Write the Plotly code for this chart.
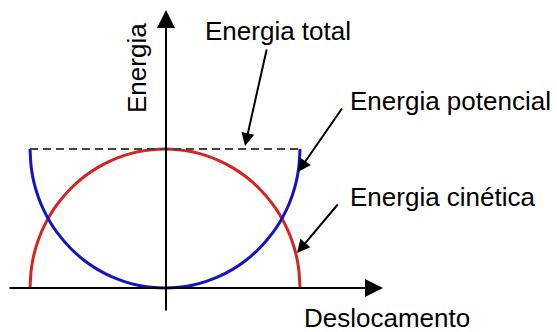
import plotly.graph_objects as go

# Data (normalised units: displacement -1..1, energy 0..1)
deslocamento = [-1.0, -0.99, -0.97, -0.94, -0.9, -0.85, -0.8, -0.7, -0.6, -0.5, -0.4, -0.3, -0.2, -0.1, 0.0,
                0.1, 0.2, 0.3, 0.4, 0.5, 0.6, 0.7, 0.8, 0.85, 0.9, 0.94, 0.97, 0.99, 1.0]
energia_cinetica = [0.0, 0.14, 0.243, 0.341, 0.436, 0.527, 0.6, 0.714, 0.8, 0.866, 0.917, 0.954, 0.98, 0.995, 1.0,
                    0.995, 0.98, 0.954, 0.917, 0.866, 0.8, 0.714, 0.6, 0.527, 0.436, 0.341, 0.243, 0.14, 0.0]
energia_potencial = [1.0, 0.86, 0.757, 0.659, 0.564, 0.473, 0.4, 0.286, 0.2, 0.134, 0.083, 0.046, 0.02, 0.005, 0.0,
                     0.005, 0.02, 0.046, 0.083, 0.134, 0.2, 0.286, 0.4, 0.473, 0.564, 0.659, 0.757, 0.86, 1.0]
total_x = [-1.0, 1.0]
energia_total = [1.0, 1.0]

labels = {
    "total": "Energia total",
    "potencial": "Energia potencial",
    "cinetica": "Energia cinética",
    "xaxis": "Deslocamento",
    "yaxis": "Energia",
}

W, H = 557, 332
X0, SX = 165.0, 135.0   # pixel of x=0, px per unit
Y0, SY = 288.0, 139.0   # pixel of y=0, px per unit


def px2x(p):
    return (p - X0) / SX


def px2y(p):
    return (Y0 - p) / SY


FONT = "Liberation Sans, Arial, Helvetica, sans-serif"

fig = go.Figure()
fig.add_trace(go.Scatter(x=deslocamento, y=energia_cinetica, mode="lines",
                         line=dict(color="#d82222", width=3, shape="spline", smoothing=0.8),
                         hoverinfo="skip", showlegend=False))
fig.add_trace(go.Scatter(x=deslocamento, y=energia_potencial, mode="lines",
                         line=dict(color="#1414c4", width=3, shape="spline", smoothing=0.8),
                         hoverinfo="skip", showlegend=False))
fig.add_trace(go.Scatter(x=total_x, y=energia_total, mode="lines",
                         line=dict(color="#444444", width=2, dash="8px,5px"),
                         hoverinfo="skip", showlegend=False))

ann = []


def arrow(tail, tip, width, size):
    ann.append(dict(x=px2x(tip[0]), y=px2y(tip[1]), ax=px2x(tail[0]), ay=px2y(tail[1]),
                    xref="x", yref="y", axref="x", ayref="y", text="",
                    showarrow=True, arrowhead=2, arrowwidth=width, arrowsize=size,
                    arrowcolor="black"))


# axes with arrows
arrow((166, 312), (166, 10), 2, 1.8)
arrow((8, 288), (383, 288), 2, 1.8)
# pointer arrows
arrow((267, 48), (245, 146), 2, 1.3)
arrow((343, 107), (298, 172), 2, 1.3)
arrow((339, 203), (297, 253), 2, 1.3)


def text(t, x, y, rot=0, xanchor="left"):
    ann.append(dict(x=px2x(x), y=px2y(y), xref="x", yref="y", text=t, showarrow=False,
                    xanchor=xanchor, yanchor="middle", textangle=rot,
                    font=dict(family=FONT, size=26, color="black")))


text(labels["total"], 203, 31)
text(labels["potencial"], 348, 101)
text(labels["cinetica"], 348, 197)
text(labels["xaxis"], 302, 318)
text(labels["yaxis"], 137, 68, rot=-90, xanchor="center")

fig.update_layout(
    width=W, height=H,
    margin=dict(l=0, r=0, t=0, b=0),
    paper_bgcolor="white", plot_bgcolor="white",
    xaxis=dict(range=[px2x(0), px2x(W)], visible=False, fixedrange=True),
    yaxis=dict(range=[px2y(H), px2y(0)], visible=False, fixedrange=True),
    annotations=ann,
    showlegend=False,
)

fig.write_html("out.html", config={"displayModeBar": False},
               post_script="document.body.style.margin='0';document.body.style.overflow='hidden';")
